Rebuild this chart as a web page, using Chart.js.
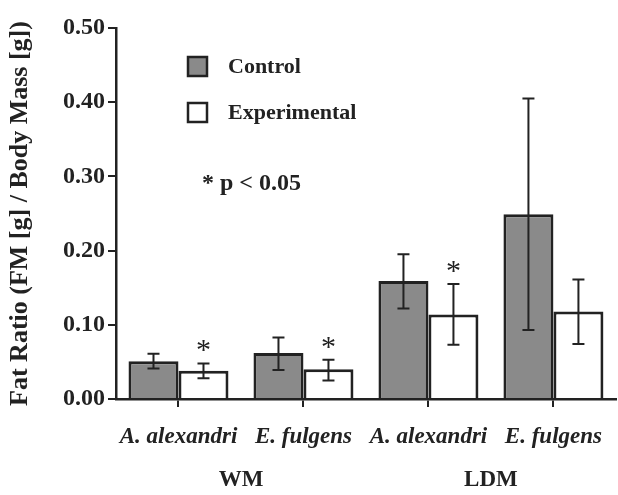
<!DOCTYPE html>
<html>
<head>
<meta charset="utf-8">
<script src="https://cdn.jsdelivr.net/npm/chart.js@4.4.0/dist/chart.umd.min.js"></script>
<style>
  html, body { margin: 0; padding: 0; background: #fff; }
  #wrap { width: 618px; height: 495px; }
</style>
</head>
<body>
<div id="wrap"><canvas id="fat-canvas"></canvas></div>
<script>
// Datos
const species = ['A. alexandri', 'E. fulgens', 'A. alexandri', 'E. fulgens'];
const groups = ['WM', 'LDM'];
const controlValues = [0.051, 0.062, 0.159, 0.249];
const controlHigh = [0.061, 0.083, 0.195, 0.405];
const controlLow = [0.041, 0.039, 0.122, 0.093];
const expValues = [0.038, 0.040, 0.114, 0.118];
const expHigh = [0.048, 0.053, 0.155, 0.161];
const expLow = [0.028, 0.025, 0.073, 0.074];
const significant = [true, true, true, false];
const yTicks = [0, 0.1, 0.2, 0.3, 0.4, 0.5];

const INK = '#222';
const SERIF = '"Liberation Serif", "DejaVu Serif", serif';

// Barras de error, asteriscos, leyenda y etiquetas de grupo
const extrasPlugin = {
    id: 'extras',
    afterDatasetsDraw(chart) {
        const ctx = chart.ctx;
        const y = chart.scales.y;
        const x = chart.scales.x;
        const errs = [[controlHigh, controlLow], [expHigh, expLow]];
        ctx.save();
        ctx.strokeStyle = INK;
        ctx.lineWidth = 2;
        chart.data.datasets.forEach((ds, di) => {
            const meta = chart.getDatasetMeta(di);
            meta.data.forEach((bar, i) => {
                const yHi = y.getPixelForValue(errs[di][0][i]);
                const yLo = y.getPixelForValue(errs[di][1][i]);
                ctx.beginPath();
                ctx.moveTo(bar.x, yHi);
                ctx.lineTo(bar.x, yLo);
                ctx.moveTo(bar.x - 6, yHi);
                ctx.lineTo(bar.x + 6, yHi);
                ctx.moveTo(bar.x - 6, yLo);
                ctx.lineTo(bar.x + 6, yLo);
                ctx.stroke();
                if (di === 1 && significant[i]) {
                    ctx.fillStyle = INK;
                    ctx.font = '30px ' + SERIF;
                    ctx.textAlign = 'center';
                    ctx.textBaseline = 'middle';
                    ctx.fillText('*', bar.x, yHi - 12);
                }
            });
        });

        // Leyenda
        ctx.font = 'bold 22px ' + SERIF;
        ctx.textAlign = 'left';
        ctx.textBaseline = 'middle';
        chart.data.datasets.forEach((ds, di) => {
            const top = 57 + di * 46;
            ctx.fillStyle = ds.backgroundColor;
            ctx.fillRect(188, top, 19, 19);
            ctx.lineWidth = 2.5;
            ctx.strokeRect(188, top, 19, 19);
            ctx.fillStyle = INK;
            ctx.fillText(ds.label, 228, top + 10);
        });
        ctx.font = 'bold 24px ' + SERIF;
        ctx.fillText('* p < 0.05', 202, 184);

        // Grupos bajo el eje x
        ctx.font = 'bold 23px ' + SERIF;
        ctx.textAlign = 'center';
        groups.forEach((g, gi) => {
            const cx = (x.getPixelForValue(gi * 2) + x.getPixelForValue(gi * 2 + 1)) / 2;
            ctx.fillText(g, cx, 480);
        });
        ctx.restore();
    }
};

const ctx = document.getElementById('fat-canvas').getContext('2d');

new Chart(ctx, {
    type: 'bar',
    data: {
        labels: species,
        datasets: [{
            label: 'Control',
            data: controlValues,
            backgroundColor: '#8a8a8a',
            borderColor: INK,
            borderWidth: 3
        }, {
            label: 'Experimental',
            data: expValues,
            backgroundColor: '#ffffff',
            borderColor: INK,
            borderWidth: 3
        }]
    },
    options: {
        responsive: true,
        maintainAspectRatio: false,
        animation: false,
        devicePixelRatio: 1,
        layout: { padding: { top: 28, right: -3, left: 0, bottom: 0 } },
        datasets: { bar: { categoryPercentage: 0.8, barPercentage: 1.0 } },
        plugins: {
            legend: { display: false },
            tooltip: { enabled: false }
        },
        scales: {
            x: {
                border: { display: true, color: INK, width: 2.5 },
                grid: { display: true, drawOnChartArea: false, drawTicks: true, offset: false, tickLength: 8, color: INK, lineWidth: 2 },
                ticks: {
                    color: INK,
                    padding: 16,
                    maxRotation: 0,
                    font: { family: SERIF, size: 23, style: 'italic', weight: 'bold' }
                },
                afterFit(scale) { scale.height = 96; }
            },
            y: {
                min: 0,
                max: 0.5,
                border: { display: true, color: INK, width: 2.5 },
                grid: { display: true, drawOnChartArea: false, drawTicks: true, tickLength: 8, color: INK, lineWidth: 2 },
                afterBuildTicks(scale) { scale.ticks = yTicks.map(v => ({ value: v })); },
                ticks: {
                    color: INK,
                    padding: 3,
                    font: { family: SERIF, size: 24, weight: 'bold' },
                    callback: v => v.toFixed(2)
                },
                title: {
                    display: true,
                    text: 'Fat Ratio (FM [g] / Body Mass [g])',
                    color: INK,
                    padding: { top: 5, bottom: 0 },
                    font: { family: SERIF, size: 26, weight: 'bold' }
                },
                afterFit(scale) { scale.width = 116; }
            }
        }
    },
    plugins: [extrasPlugin]
});
</script>
</body>
</html>
